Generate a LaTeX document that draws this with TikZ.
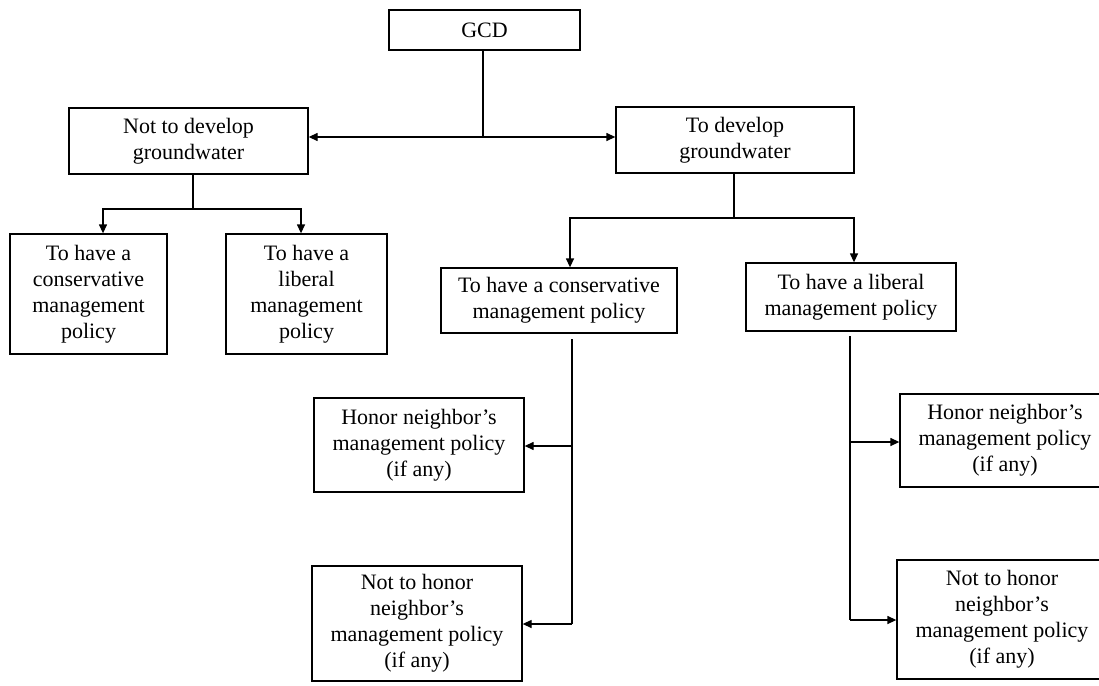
\documentclass[tikz,border=0pt]{standalone}
\usepackage{fontspec}
\setmainfont{Liberation Serif}
\usepackage{tikz}
\usetikzlibrary{arrows.meta, positioning}
\tikzstyle{box} = [rectangle, 
draw=black, 
line width=1.3pt, 
inner sep=0pt, 
align=center, 
font=\fontsize{22}{26}\selectfont]
\tikzstyle{arrow} = [line width=1.3pt,-{Triangle[length=9pt,width=8pt]}]
\tikzstyle{link} = [line width=1.3pt]

\begin{document}
\begin{tikzpicture}[x=1pt, y=-1pt]
        \useasboundingbox (0,0) rectangle (1099,685);
        \clip (0,0) rectangle (1099,685);
        % Nodos
        \node (gcd) [box, minimum width=191pt, minimum height=40pt] at (484.5,30) {GCD};
        \node (notdev) [box, minimum width=239pt, minimum height=66pt] at (188.5,141) {Not to develop\\groundwater};
        \node (dev) [box, minimum width=238pt, minimum height=66pt] at (735,140) {To develop\\groundwater};
        \node (ncons) [box, minimum width=157pt, minimum height=120pt] at (88.5,294) {To have a\\conservative\\management\\policy};
        \node (nlib) [box, minimum width=161pt, minimum height=120pt] at (306.5,294) {To have a\\liberal\\management\\policy};
        \node (dcons) [box, minimum width=236pt, minimum height=65pt] at (559,300.5) {To have a conservative\\management policy};
        \node (dlib) [box, minimum width=210pt, minimum height=68pt] at (851,297) {To have a liberal\\management policy};
        \node (chonor) [box, minimum width=210pt, minimum height=94pt] at (419,445) {Honor neighbor’s\\management policy\\(if any)};
        \node (cnot) [box, minimum width=210pt, minimum height=115pt] at (417,623.5) {Not to honor\\neighbor’s\\management policy\\(if any)};
        \node (lhonor) [box, minimum width=210pt, minimum height=93pt] at (1005,440.5) {Honor neighbor’s\\management policy\\(if any)};
        \node (lnot) [box, minimum width=210pt, minimum height=119pt] at (1002,619.5) {Not to honor\\neighbor’s\\management policy\\(if any)};

        % Puntos de union
        \coordinate (j0) at (483,137);
        \coordinate (j1) at (193,209);
        \coordinate (j2) at (734,218);
        \coordinate (j3) at (572,339);
        \coordinate (j4) at (850,336);

        % GCD: dos ramas
        \draw [link] (gcd.south -| j0) -- (j0);
        \draw [arrow] (j0) -- (j0 -| notdev.east);
        \draw [arrow] (j0) -- (j0 -| dev.west);

        % No desarrollar
        \draw [link] (notdev.south -| j1) -- (j1);
        \draw [arrow] (j1) -- (103,209) -- (103,209 |- ncons.north);
        \draw [arrow] (j1) -- (301,209) -- (301,209 |- nlib.north);

        % Desarrollar
        \draw [link] (dev.south -| j2) -- (j2);
        \draw [arrow] (j2) -- (570,218) -- (570,218 |- dcons.north);
        \draw [arrow] (j2) -- (854,218) -- (854,218 |- dlib.north);

        % Conservadora
        \draw [link] (j3) -- (572,624);
        \draw [arrow] (572,446) -- (572,446 -| chonor.east);
        \draw [arrow] (572,624) -- (572,624 -| cnot.east);

        % Liberal
        \draw [link] (j4) -- (850,620);
        \draw [arrow] (850,442) -- (850,442 -| lhonor.west);
        \draw [arrow] (850,620) -- (850,620 -| lnot.west);

    \end{tikzpicture}
\end{document}
